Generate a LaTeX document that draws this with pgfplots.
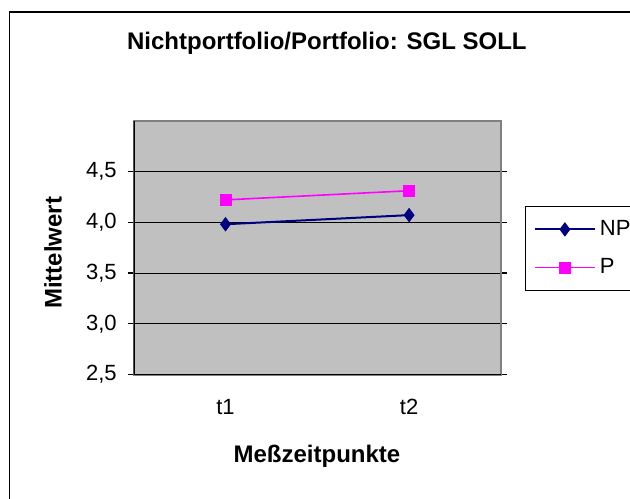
\documentclass[border=0pt]{standalone}
\usepackage{pgfplots}
\pgfplotsset{compat=1.18}
\usepackage{fontspec}
\setmainfont{Liberation Sans}

\definecolor{npblue}{HTML}{000080}
\definecolor{pmag}{HTML}{FF00FF}
\definecolor{plotbg}{HTML}{C0C0C0}
\definecolor{frameg}{HTML}{808080}

\begin{document}
\begin{tikzpicture}
% page = 630x498 px at 0.5pt per px
\useasboundingbox (0,0) rectangle (315pt,249pt);

\begin{axis}[
    at={(66.85pt,61.75pt)},
    anchor=south west,
    scale only axis,
    width=183.6pt,
    height=126.9pt,
    xmin=0.5, xmax=2.5,
    ymin=2.5, ymax=5,
    xtick={1,2},
    xticklabels={t1,t2},
    minor xtick={0.5,1.5,2.5},
    ytick={2.5,3,3.5,4,4.5},
    tick align=outside,
    major tick length=3pt,
    minor tick length=3pt,
    xtick style={draw=none},
    minor x tick style={black, line width=0.6pt},
    ytick style={black, line width=0.6pt},
    ymajorgrids,
    major grid style={black, line width=0.4pt},
    axis background/.style={fill=plotbg},
    axis line style={frameg, line width=1pt},
    /pgf/number format/.cd, use comma, fixed, fixed zerofill, precision=1, assume math mode=true,
    /pgfplots/.cd,
    tick label style={font=\fontsize{11}{13}\selectfont},
    yticklabel style={xshift=-2pt},
    xticklabel style={yshift=-6pt},
    title={\textbf{Nichtportfolio/Portfolio: SGL SOLL}},
    title style={font=\fontsize{12}{14}\selectfont, at={(axis description cs:0.526,1.306)}, anchor=center, yshift=-6pt},
    xlabel={\textbf{Meßzeitpunkte}},
    xlabel style={font=\fontsize{12}{14}\selectfont, at={(axis description cs:0.499,-0.321)}, anchor=center},
    ylabel={\textbf{Mittelwert}},
    ylabel style={font=\fontsize{12}{14}\selectfont, at={(axis description cs:-0.2198,0.479)}, anchor=center, rotate=0},
    legend style={
        at={(1.0664,0.665)}, anchor=north west,
        draw=black, line width=0.6pt, fill=white,
        font=\fontsize{11}{13}\selectfont,
        inner xsep=4pt, inner ysep=5pt, row sep=6pt,
        cells={anchor=west},
        nodes={text width=50pt, inner xsep=2pt},
    },
    legend cell align=left,
    legend image code/.code={
        \draw[mark repeat=2, mark phase=2, #1] plot coordinates {(0pt,0pt) (15pt,0pt) (30pt,0pt)};
    },
]

\addplot[npblue, line width=1pt, mark=diamond*, mark size=3.3pt, mark options={solid, fill=npblue, line width=0.4pt}]
coordinates {(1,3.98) (2,4.07)};
\addlegendentry{NP}

\addplot[pmag, line width=0.8pt, mark=square*, mark size=2.7pt, mark options={solid, fill=pmag, line width=0.4pt}]
coordinates {(1,4.22) (2,4.31)};
\addlegendentry{P}

\end{axis}
\begin{axis}[
    at={(66.85pt,61.75pt)},
    anchor=south west,
    scale only axis,
    width=183.6pt,
    height=126.9pt,
    xmin=0.5, xmax=2.5,
    ymin=2.5, ymax=5,
    hide axis,
]
\draw[black, line width=0.8pt] (rel axis cs:0,1) -- (rel axis cs:0,0) -- (rel axis cs:1,0);
\end{axis}

% outer chart frame (runs off the page on the right and bottom), drawn last
\draw[black, line width=0.9pt] (4.75pt,-10pt) -- (4.75pt,242.8pt) -- (330pt,242.8pt);
\end{tikzpicture}
\end{document}
